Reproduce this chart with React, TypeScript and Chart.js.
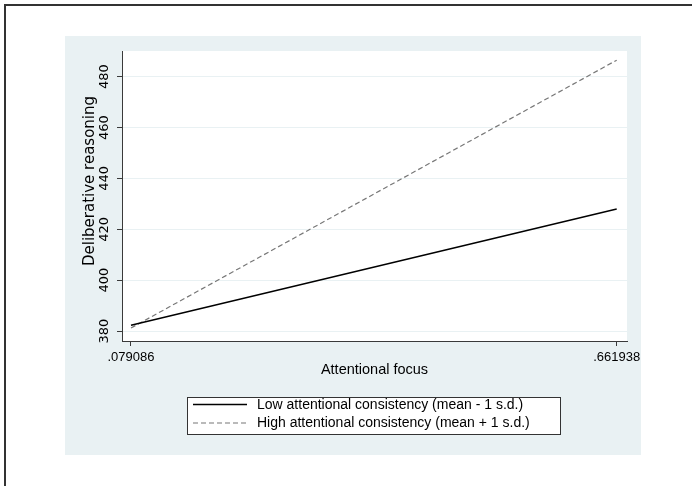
import React, { useEffect, useRef } from "react";
import { Chart, registerables } from "chart.js";

Chart.register(...registerables);

// ---- data ----
const xValues = [0.079086, 0.661938];
const lowValues = [382.3, 428.0];
const highValues = [381.2, 486.5];
const xTicks = [0.079086, 0.661938];
const yTicks = [380, 400, 420, 440, 460, 480];
const seriesLabels = [
  "Low attentional consistency (mean - 1 s.d.)",
  "High attentional consistency (mean + 1 s.d.)",
];
const xTitle = "Attentional focus";
const yTitle = "Deliberative reasoning";

const FONT = "'Liberation Sans', Arial, Helvetica, sans-serif";
const VFONT = "'DejaVu Sans', 'Liberation Sans', sans-serif";
const BG = "#E9F1F3";
const AXIS = "#3a3a3a";

const framePlugin = {
  id: "frame",
  beforeDraw(chart: any) {
    const { ctx, width, height, chartArea } = chart;
    ctx.save();
    ctx.fillStyle = "#ffffff";
    ctx.fillRect(0, 0, width, height);
    // outer frame (left & top visible)
    ctx.fillStyle = "#333333";
    ctx.fillRect(4, 4, width, 2);
    ctx.fillRect(4, 4, 2, height);
    // graph region
    ctx.fillStyle = BG;
    ctx.fillRect(65, 36, 576, 419);
    // plot region
    ctx.fillStyle = "#ffffff";
    ctx.fillRect(chartArea.left, chartArea.top, chartArea.right - chartArea.left, chartArea.bottom - chartArea.top);
    ctx.restore();
  },
  afterDraw(chart: any) {
    const { ctx } = chart;
    ctx.save();
    // y axis title
    ctx.save();
    ctx.translate(90, 181);
    ctx.rotate(-Math.PI / 2);
    ctx.font = `15px ${VFONT}`;
    ctx.fillStyle = "#000000";
    ctx.textAlign = "center";
    ctx.textBaseline = "middle";
    ctx.fillText(yTitle, 0, 0);
    ctx.restore();
    // legend
    const bx = 187.5, by = 397.5, bw = 373, bh = 37;
    ctx.fillStyle = "#ffffff";
    ctx.fillRect(bx, by, bw, bh);
    ctx.strokeStyle = "#333333";
    ctx.lineWidth = 1;
    ctx.strokeRect(bx, by, bw, bh);
    const rows = [404.5, 423];
    const styles = [
      { color: "#000000", dash: [] as number[], width: 1.3 },
      { color: "#777777", dash: [5, 3], width: 1.2 },
    ];
    ctx.font = `14px ${FONT}`;
    ctx.textBaseline = "middle";
    ctx.textAlign = "left";
    rows.forEach((y, i) => {
      ctx.beginPath();
      ctx.strokeStyle = styles[i].color;
      ctx.lineWidth = styles[i].width;
      ctx.setLineDash(styles[i].dash);
      ctx.moveTo(193, y);
      ctx.lineTo(247, y);
      ctx.stroke();
      ctx.setLineDash([]);
      ctx.fillStyle = "#000000";
      ctx.fillText(seriesLabels[i], 257, y + 0.5);
    });
    ctx.restore();
  },
};

export default function App() {
  const ref = useRef<HTMLCanvasElement | null>(null);
  useEffect(() => {
    document.body.style.margin = "0";
    const canvas = ref.current!;
    const chart = new Chart(canvas, {
      type: "line",
      data: {
        datasets: [
          {
            label: seriesLabels[0],
            data: xValues.map((x, i) => ({ x, y: lowValues[i] })),
            borderColor: "#000000",
            borderWidth: 1.4,
            pointRadius: 0,
            fill: false,
            tension: 0,
          },
          {
            label: seriesLabels[1],
            data: xValues.map((x, i) => ({ x, y: highValues[i] })),
            borderColor: "#777777",
            borderWidth: 1.2,
            borderDash: [5, 3],
            pointRadius: 0,
            fill: false,
            tension: 0,
          },
        ],
      },
      options: {
        animation: false,
        responsive: false,
        devicePixelRatio: 1,
        layout: { padding: { left: 65, right: 65, top: 51, bottom: 107 } },
        plugins: {
          legend: { display: false },
          tooltip: { enabled: false },
        },
        scales: {
          x: {
            type: "linear",
            min: 0.06829,
            max: 0.6743,
            afterBuildTicks: (scale: any) => {
              scale.ticks = xTicks.map((v) => ({ value: v }));
            },
            afterFit: (scale: any) => {
              scale.height = 38;
            },
            ticks: {
              color: "#000000",
              font: { family: FONT, size: 13 },
              padding: 4,
              maxRotation: 0,
              minRotation: 0,
              autoSkip: false,
              callback: (v: any) => Number(v).toFixed(6).replace(/^0/, ""),
            },
            grid: {
              display: true,
              color: "rgba(0,0,0,0)",
              drawTicks: true,
              tickLength: 5,
              tickColor: AXIS,
              tickWidth: 1,
            },
            border: { display: true, color: AXIS, width: 1 },
            title: {
              display: true,
              text: xTitle,
              color: "#000000",
              font: { family: FONT, size: 14.5 },
              padding: { top: 0, bottom: 0 },
            },
          },
          y: {
            type: "linear",
            min: 376.1,
            max: 490.1,
            afterBuildTicks: (scale: any) => {
              scale.ticks = yTicks.map((v) => ({ value: v }));
            },
            afterFit: (scale: any) => {
              scale.width = 57;
            },
            ticks: {
              color: "#000000",
              font: { family: VFONT, size: 13 },
              padding: 0,
              minRotation: 90,
              maxRotation: 90,
              crossAlign: "center",
              autoSkip: false,
            },
            grid: {
              display: true,
              color: BG,
              lineWidth: 1,
              drawTicks: true,
              tickLength: 5,
              tickColor: AXIS,
              tickWidth: 1,
            },
            border: { display: true, color: AXIS, width: 1 },
            title: { display: false },
          },
        },
      },
      plugins: [framePlugin],
    } as any);
    return () => chart.destroy();
  }, []);
  return (
    <div style={{ position: "fixed", left: 0, top: 0, width: 692, height: 486 }}>
      <canvas ref={ref} width={692} height={486} style={{ width: 692, height: 486, display: "block" }} />
    </div>
  );
}
